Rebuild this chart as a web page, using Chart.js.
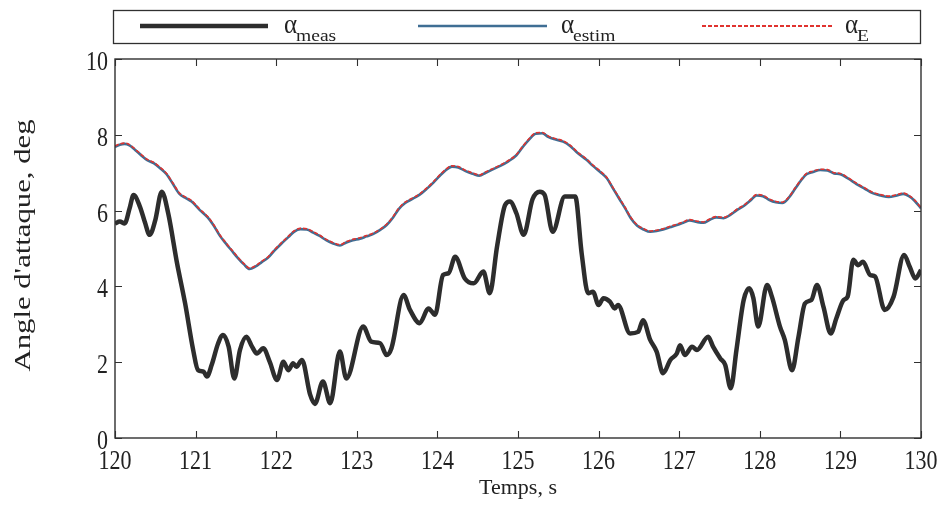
<!DOCTYPE html>
<html>
<head>
<meta charset="utf-8">
<script src="https://cdn.jsdelivr.net/npm/chart.js@4/dist/chart.umd.min.js"></script>
<style>
  html, body { margin: 0; padding: 0; background: #ffffff; }
  #wrap { width: 943px; height: 505px; position: relative; }
</style>
</head>
<body>
<div id="wrap"><canvas id="c" width="943" height="505"></canvas></div>
<script>
// Measured angle of attack (deg) vs time (s)
const timeMeas = [120.00,120.06,120.12,120.18,120.23,120.31,120.37,120.43,120.50,120.58,120.66,120.77,120.87,120.97,121.03,121.10,121.14,121.20,121.28,121.34,121.41,121.48,121.55,121.63,121.70,121.76,121.84,121.92,122.01,122.09,122.15,122.21,122.25,122.32,122.42,122.48,122.58,122.67,122.79,122.87,123.08,123.18,123.29,123.37,123.43,123.58,123.66,123.78,123.89,123.97,124.07,124.14,124.22,124.34,124.45,124.57,124.65,124.74,124.84,124.90,124.98,125.07,125.18,125.27,125.33,125.43,125.58,125.71,125.79,125.87,125.93,126.00,126.06,126.14,126.20,126.24,126.39,126.49,126.55,126.64,126.72,126.80,126.89,126.97,127.01,127.07,127.16,127.22,127.36,127.42,127.51,127.57,127.64,127.71,127.80,127.87,127.92,127.98,128.09,128.15,128.25,128.31,128.40,128.48,128.56,128.64,128.71,128.79,128.88,128.95,129.04,129.09,129.16,129.22,129.28,129.37,129.43,129.55,129.66,129.79,129.86,129.93,130.00];
const alphaMeas = [5.66,5.71,5.66,6.05,6.41,6.10,5.70,5.36,5.75,6.50,5.93,4.61,3.55,2.32,1.79,1.75,1.62,1.93,2.50,2.72,2.41,1.57,2.32,2.67,2.41,2.23,2.37,2.01,1.53,2.01,1.79,1.97,1.88,2.06,1.15,0.90,1.49,0.92,2.28,1.57,2.94,2.54,2.50,2.19,2.37,3.77,3.38,3.03,3.42,3.25,4.30,4.35,4.78,4.21,4.08,4.39,3.82,5.05,6.15,6.24,5.93,5.36,6.30,6.50,6.42,5.44,6.37,6.37,4.87,3.82,3.86,3.51,3.69,3.60,3.42,3.51,2.76,2.80,3.11,2.59,2.28,1.71,2.06,2.23,2.45,2.19,2.41,2.32,2.67,2.41,2.10,1.93,1.31,2.32,3.64,3.95,3.69,2.94,4.04,3.73,2.94,2.59,1.79,2.67,3.55,3.64,4.04,3.46,2.76,3.16,3.64,3.73,4.70,4.56,4.65,4.30,4.26,3.38,3.73,4.83,4.52,4.21,4.43];

// Estimated angle of attack and alpha_E (deg) vs time (s)
const timeEstim = [120.00,120.06,120.12,120.18,120.25,120.32,120.40,120.48,120.56,120.64,120.72,120.80,120.88,120.95,121.05,121.15,121.22,121.30,121.38,121.45,121.52,121.60,121.67,121.74,121.82,121.90,121.98,122.06,122.15,122.22,122.30,122.38,122.46,122.54,122.62,122.70,122.79,122.87,122.95,123.04,123.12,123.20,123.29,123.37,123.45,123.52,123.60,123.70,123.78,123.87,123.95,124.03,124.10,124.18,124.26,124.35,124.44,124.52,124.60,124.68,124.78,124.88,124.98,125.06,125.14,125.22,125.30,125.38,125.46,125.56,125.65,125.74,125.85,125.93,126.02,126.10,126.18,126.26,126.33,126.40,126.48,126.56,126.64,126.72,126.80,126.88,126.97,127.05,127.13,127.22,127.30,127.38,127.46,127.55,127.63,127.72,127.80,127.88,127.96,128.04,128.12,128.20,128.28,128.36,128.44,128.52,128.58,128.66,128.75,128.84,128.92,129.00,129.10,129.20,129.30,129.40,129.50,129.60,129.70,129.78,129.85,129.92,130.00];
const alphaEstim = [7.68,7.74,7.76,7.72,7.60,7.47,7.33,7.25,7.12,6.96,6.70,6.44,6.33,6.24,6.02,5.82,5.62,5.34,5.12,4.94,4.76,4.58,4.46,4.52,4.64,4.76,4.95,5.12,5.30,5.44,5.51,5.50,5.42,5.33,5.22,5.14,5.08,5.16,5.22,5.26,5.32,5.38,5.49,5.62,5.82,6.04,6.20,6.32,6.42,6.58,6.74,6.92,7.06,7.16,7.14,7.04,6.97,6.92,7.00,7.08,7.18,7.30,7.46,7.68,7.88,8.03,8.04,7.94,7.88,7.82,7.70,7.52,7.34,7.18,7.02,6.86,6.58,6.30,6.06,5.80,5.60,5.50,5.44,5.46,5.50,5.56,5.62,5.68,5.74,5.70,5.68,5.76,5.82,5.80,5.88,6.02,6.12,6.26,6.40,6.38,6.28,6.22,6.20,6.34,6.58,6.82,6.96,7.02,7.07,7.06,6.98,6.96,6.84,6.70,6.58,6.46,6.40,6.36,6.40,6.44,6.38,6.26,6.06];
const alphaE = [7.68,7.74,7.76,7.72,7.60,7.47,7.33,7.25,7.12,6.96,6.70,6.44,6.33,6.24,6.02,5.82,5.62,5.34,5.12,4.94,4.76,4.58,4.46,4.52,4.64,4.76,4.95,5.12,5.30,5.44,5.51,5.50,5.42,5.33,5.22,5.14,5.08,5.16,5.22,5.26,5.32,5.38,5.49,5.62,5.82,6.04,6.20,6.32,6.42,6.58,6.74,6.92,7.06,7.16,7.14,7.04,6.97,6.92,7.00,7.08,7.18,7.30,7.46,7.68,7.88,8.03,8.04,7.94,7.88,7.82,7.70,7.52,7.34,7.18,7.02,6.86,6.58,6.30,6.06,5.80,5.60,5.50,5.44,5.46,5.50,5.56,5.62,5.68,5.74,5.70,5.68,5.76,5.82,5.80,5.88,6.02,6.12,6.26,6.40,6.38,6.28,6.22,6.20,6.34,6.58,6.82,6.96,7.02,7.07,7.06,6.98,6.96,6.84,6.70,6.58,6.46,6.40,6.36,6.40,6.44,6.38,6.26,6.06];

// Axis ticks
const xTicks = [120,121,122,123,124,125,126,127,128,129,130];
const yTicks = [0,2,4,6,8,10];

const SERIF = '"Liberation Serif", "Times New Roman", serif';
const INK = '#222222';
const COL_MEAS = '#2d2d2d';
const COL_ESTIM = '#3f6e94';
const COL_E = '#e0332f';

const toPoints = (xs, ys) => xs.map((x, i) => ({ x: x, y: ys[i] }));

// Draw text with independent horizontal / vertical scaling
function scaledText(ctx, text, x, y, font, sx, sy, align) {
  ctx.save();
  ctx.font = font;
  ctx.textAlign = align || 'left';
  ctx.textBaseline = 'alphabetic';
  ctx.translate(x, y);
  ctx.scale(sx, sy);
  ctx.fillText(text, 0, 0);
  ctx.restore();
}

// Nudge the dashed alpha_E trace slightly upward so both traces show
const liftPlugin = {
  id: 'lift',
  beforeDatasetDraw(chart, args) {
    if (args.index === 2) { chart.ctx.save(); chart.ctx.translate(0, -0.8); }
  },
  afterDatasetDraw(chart, args) {
    if (args.index === 2) { chart.ctx.restore(); }
  }
};

// Boxed frame with inward ticks on all four sides, tick labels and rotated y title
const framePlugin = {
  id: 'frame',
  afterDraw(chart) {
    const { ctx, chartArea: a, scales } = chart;
    const xs = scales.x, ys = scales.y;
    ctx.save();
    ctx.strokeStyle = '#303030';
    ctx.lineWidth = 1.4;
    ctx.strokeRect(a.left, a.top, a.right - a.left, a.bottom - a.top);
    const tl = 7;
    ctx.beginPath();
    xTicks.forEach(v => {
      const px = Math.round(xs.getPixelForValue(v)) + 0.5;
      ctx.moveTo(px, a.bottom); ctx.lineTo(px, a.bottom - tl);
      ctx.moveTo(px, a.top); ctx.lineTo(px, a.top + tl);
    });
    yTicks.forEach(v => {
      const py = Math.round(ys.getPixelForValue(v)) + 0.5;
      ctx.moveTo(a.left, py); ctx.lineTo(a.left + tl, py);
      ctx.moveTo(a.right, py); ctx.lineTo(a.right - tl, py);
    });
    ctx.lineWidth = 1.1;
    ctx.stroke();

    // tick labels
    ctx.fillStyle = INK;
    const tickFont = '22px ' + SERIF;
    xTicks.forEach(v => {
      scaledText(ctx, String(v), xs.getPixelForValue(v), a.bottom + 31, tickFont, 1.0, 1.2, 'center');
    });
    yTicks.forEach(v => {
      scaledText(ctx, String(v), a.left - 7, ys.getPixelForValue(v) + 11, tickFont, 1.0, 1.2, 'right');
    });

    // y axis title
    const title = "Angle d'attaque, deg";
    ctx.font = '23px ' + SERIF;
    const w = ctx.measureText(title).width;
    const targetLen = 252;
    ctx.translate(24, (a.top + a.bottom) / 2 - 3);
    ctx.rotate(-Math.PI / 2);
    ctx.scale(targetLen / w, 1);
    ctx.textAlign = 'center';
    ctx.textBaseline = 'middle';
    ctx.fillText(title, 0, 0);
    ctx.restore();
  }
};

// Legend strip above the plot
const legendPlugin = {
  id: 'legendStrip',
  afterDraw(chart) {
    const ctx = chart.ctx;
    ctx.save();
    ctx.strokeStyle = '#303030';
    ctx.lineWidth = 1.3;
    ctx.strokeRect(113.5, 10.5, 807, 33);

    const ly = 26;
    const entries = [
      { x0: 140, x1: 268, color: COL_MEAS, width: 4.5, dash: [], tx: 284, sub: 'meas' },
      { x0: 418, x1: 547, color: COL_ESTIM, width: 2.5, dash: [], tx: 561, sub: 'estim' },
      { x0: 702, x1: 832, color: COL_E, width: 2, dash: [4, 2], tx: 845, sub: 'E' }
    ];
    entries.forEach(e => {
      ctx.beginPath();
      ctx.setLineDash(e.dash);
      ctx.strokeStyle = e.color;
      ctx.lineWidth = e.width;
      ctx.moveTo(e.x0, ly); ctx.lineTo(e.x1, ly);
      ctx.stroke();
      ctx.setLineDash([]);
      ctx.fillStyle = INK;
      scaledText(ctx, 'α', e.tx, 33, '25px ' + SERIF, 1.0, 1.1);
      scaledText(ctx, e.sub, e.tx + 12, 41, '17px ' + SERIF, 1.15, 1.0);
    });
    ctx.restore();
  }
};

new Chart(document.getElementById('c'), {
  type: 'line',
  data: {
    datasets: [
      {
        label: 'α meas',
        data: toPoints(timeMeas, alphaMeas),
        borderColor: COL_MEAS,
        borderWidth: 4.5,
        pointRadius: 0,
        cubicInterpolationMode: 'monotone',
        order: 3
      },
      {
        label: 'α estim',
        data: toPoints(timeEstim, alphaEstim),
        borderColor: COL_ESTIM,
        borderWidth: 2.6,
        pointRadius: 0,
        cubicInterpolationMode: 'monotone',
        order: 2
      },
      {
        label: 'α E',
        data: toPoints(timeEstim, alphaE),
        borderColor: COL_E,
        borderWidth: 1.6,
        borderDash: [4, 2],
        pointRadius: 0,
        cubicInterpolationMode: 'monotone',
        order: 1
      }
    ]
  },
  options: {
    responsive: false,
    animation: false,
    events: [],
    layout: { padding: { top: 59, right: 22, left: 0, bottom: 0 } },
    plugins: { legend: { display: false }, tooltip: { enabled: false } },
    scales: {
      x: {
        type: 'linear',
        min: 120, max: 130,
        grid: { display: false, drawTicks: false },
        border: { display: false },
        afterBuildTicks: s => { s.ticks = xTicks.map(v => ({ value: v })); },
        ticks: { display: false },
        title: { display: true, text: 'Temps, s', color: INK, font: { family: SERIF, size: 22 }, padding: { top: 0, bottom: 4 } },
        afterFit: s => { s.height = 67; }
      },
      y: {
        type: 'linear',
        min: 0, max: 10,
        grid: { display: false, drawTicks: false },
        border: { display: false },
        afterBuildTicks: s => { s.ticks = yTicks.map(v => ({ value: v })); },
        ticks: { display: false },
        afterFit: s => { s.width = 115; }
      }
    }
  },
  plugins: [liftPlugin, framePlugin, legendPlugin]
});
</script>
</body>
</html>
